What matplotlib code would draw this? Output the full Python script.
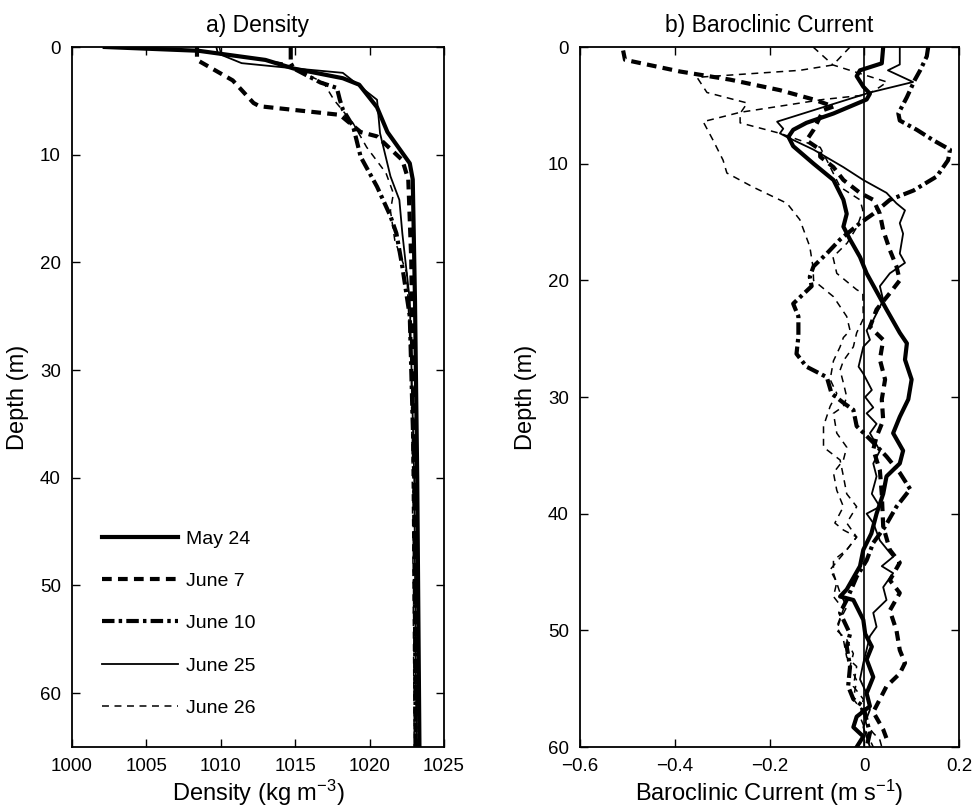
import matplotlib
matplotlib.use("Agg")
import matplotlib.pyplot as plt
from matplotlib.ticker import FuncFormatter

plt.rcParams['font.family'] = ['Liberation Sans', 'DejaVu Sans']
plt.rcParams['mathtext.default'] = 'regular'
plt.rcParams['lines.scale_dashes'] = False

# ---- a) density profiles (depth m, density kg/m3)
may24_z = [0, 0.35, 1.2, 2.0, 2.9, 3.5, 5.6, 7.9, 10.8, 12.3, 23.5, 40, 65]
may24_rho = [1002.2, 1008.5, 1013.0, 1014.9, 1018.2, 1019.3, 1020.5, 1021.2, 1022.7, 1022.9, 1023.05, 1023.2, 1023.35]
jun7_z = [0, 1.2, 3.1, 5.2, 5.5, 6.3, 7.1, 7.9, 8.3, 10.5, 12.3, 19.8, 40, 65]
jun7_rho = [1008.4, 1008.4, 1010.8, 1012.2, 1012.6, 1018.0, 1018.7, 1019.4, 1020.5, 1022.2, 1022.6, 1022.8, 1023.0, 1023.1]
jun10_z = [0, 1.5, 2.0, 3.3, 3.8, 4.9, 5.8, 7.4, 10.2, 12.97, 15.7, 17.3, 20.4, 25, 40, 65]
jun10_rho = [1014.7, 1014.7, 1014.9, 1016.7, 1017.8, 1018.0, 1018.2, 1018.9, 1019.4, 1020.5, 1021.4, 1021.8, 1022.2, 1022.7, 1023.0, 1023.1]
jun25_z = [0, 0.6, 1.5, 1.9, 2.4, 3.6, 4.9, 8.0, 12.0, 14.2, 17.3, 23.5, 40, 65]
jun25_rho = [1009.7, 1009.8, 1011.4, 1014.3, 1018.2, 1019.3, 1020.5, 1020.7, 1021.4, 1022.0, 1022.2, 1022.7, 1023.0, 1023.15]
jun26_z = [0, 0.6, 1.5, 3.3, 4.9, 7.1, 9.3, 11.7, 13.6, 15.2, 18, 21, 30, 45, 65]
jun26_rho = [1009.9, 1010.0, 1014.2, 1016.9, 1017.6, 1018.9, 1019.8, 1021.1, 1021.6, 1021.4, 1021.7, 1022.5, 1022.8, 1022.9, 1023.0]

# ---- b) baroclinic current profiles (depth m, m/s)
may24_cz = [0, 1.4, 2.0, 2.5, 3.4, 4.0, 4.5, 5.7, 6.5, 7.1, 7.7, 8.5, 10.0, 11.4, 13.1, 14.3, 15.4, 16.5, 18.0, 19.4,
            22.5, 24.5, 25.4, 26.8, 28.5, 30.2, 31.7, 33.1, 34.6, 35.7, 36.8, 38.3, 40.0, 41.7, 43.1, 44.5, 46.5, 47.1,
            47.4, 49.1, 50.3, 51.4, 52.5, 54.0, 55.4, 56.5, 57.4, 58.3, 59.1, 60]
may24_u = [0.040, 0.037, -0.009, -0.016, -0.002, 0.012, 0.005, -0.065, -0.122, -0.150, -0.160, -0.150, -0.107, -0.065,
           -0.044, -0.037, -0.044, -0.030, -0.009, 0.005, 0.047, 0.075, 0.090, 0.086, 0.100, 0.093, 0.075, 0.061, 0.082,
           0.075, 0.047, 0.040, 0.026, 0.015, -0.002, -0.009, -0.037, -0.051, -0.023, -0.002, 0.002, 0.016, 0.005,
           0.019, 0.005, 0.012, -0.016, -0.023, -0.002, -0.016]
jun7_cz = [0.3, 1.1, 2.1, 2.8, 3.7, 4.5, 5.1, 5.4, 7.1, 8.0, 8.8, 9.4, 10.3, 11.4, 12.5, 13.1, 14.3, 15.7, 17.4, 18.8,
           20.0, 21.1, 22.5, 24.0, 25.1, 26.8, 28.5, 30.2, 32.0, 33.4, 34.5, 36.3, 38.3, 41.1, 43.1, 44.2, 45.7, 46.8,
           48.3, 50.0, 51.7, 52.8, 53.7, 54.8, 55.9, 57.0, 58.5, 59.7]
jun7_u = [-0.509, -0.505, -0.389, -0.283, -0.178, -0.107, -0.065, -0.086, -0.107, -0.122, -0.093, -0.093, -0.065,
          -0.044, -0.009, 0.019, 0.033, 0.040, 0.054, 0.068, 0.075, 0.054, 0.026, 0.012, 0.040, 0.033, 0.044, 0.037,
          0.040, 0.026, 0.019, 0.033, 0.037, 0.040, 0.054, 0.075, 0.054, 0.075, 0.054, 0.068, 0.075, 0.086, 0.075,
          0.047, 0.033, 0.019, 0.040, 0.051]
jun10_cz = [0, 0.8, 2.0, 2.8, 4.3, 5.7, 6.3, 7.1, 8.0, 8.8, 9.7, 11.1, 12.3, 13.1, 14.3, 15.1, 16.5, 17.7, 18.8, 19.7,
            20.5, 22.0, 23.1, 24.8, 26.3, 27.4, 28.3, 29.7, 30.5, 31.1, 32.5, 33.9, 35.1, 36.5, 37.9, 39.4, 41.1, 42.5,
            44.0, 45.4, 47.4, 48.5, 50.3, 51.4, 53.1, 54.8, 55.9, 56.5, 57.7, 58.8, 60]
jun10_u = [0.135, 0.132, 0.118, 0.107, 0.090, 0.072, 0.075, 0.111, 0.146, 0.181, 0.177, 0.153, 0.104, 0.054, 0.019,
           -0.009, -0.051, -0.079, -0.107, -0.115, -0.111, -0.150, -0.139, -0.139, -0.143, -0.122, -0.079, -0.069,
           -0.044, -0.023, -0.016, 0.019, 0.047, 0.075, 0.097, 0.068, 0.044, 0.019, 0.005, -0.016, -0.037, -0.051,
           -0.030, -0.037, -0.030, -0.034, -0.023, -0.002, 0.005, 0.012, 0.005]
jun25_cz = [0, 1.5, 2.0, 3.0, 3.9, 6.4, 7.0, 7.4, 7.7, 8.8, 10.3, 11.4, 12.5, 13.4, 14.0, 15.1, 16.0, 17.7, 18.5, 19.4,
            20.5, 21.7, 23.4, 24.3, 25.1, 25.7, 27.4, 28.0, 29.4, 30.0, 30.9, 31.4, 32.3, 33.1, 34.6, 35.7, 36.8, 38.3,
            39.4, 40.0, 40.8, 42.3, 43.7, 44.5, 45.1, 46.3, 47.4, 48.5, 49.7, 50.5, 52.8, 54.2, 55.4, 56.8, 58.3, 60]
jun25_u = [0.075, 0.075, 0.050, 0.103, 0.012, -0.184, -0.171, -0.178, -0.164, -0.107, -0.044, -0.002, 0.047, 0.068,
           0.086, 0.075, 0.082, 0.075, 0.086, 0.054, 0.033, 0.040, 0.019, 0.005, 0.012, -0.002, -0.012, -0.002, 0.016,
           0.002, 0.019, 0.005, 0.026, 0.012, 0.033, 0.019, 0.026, 0.016, 0.033, 0.005, 0.019, 0.033, 0.061, 0.037,
           0.061, 0.040, 0.047, 0.019, 0.026, 0.012, -0.002, -0.009, 0.005, 0.012, -0.002, 0.012]
jun26a_cz = [0, 1.54, 3.0, 3.43, 4.1, 4.5, 5.6, 6.4, 8.0, 9.7, 10.8, 12.0, 13.4, 14.8, 17.1, 18.9, 20.0, 21.4, 23.1,
             24.3, 24.9, 25.7, 26.9, 28.5, 29.7, 30.8, 32.5, 34.3, 35.4, 36.8, 38.3, 39.4, 40.8, 42.0, 43.1, 44.0, 45.1,
             46.8, 48.0, 49.1, 50.0, 50.8, 52.0, 53.1, 54.3, 55.9, 57.0, 58.1, 58.8, 59.4, 60]
jun26a_u = [-0.108, -0.066, 0.048, 0.033, 0.006, -0.087, -0.262, -0.340, -0.319, -0.298, -0.290, -0.235, -0.163,
            -0.136, -0.115, -0.108, -0.107, -0.065, -0.037, -0.030, -0.044, -0.051, -0.065, -0.072, -0.058, -0.072,
            -0.086, -0.086, -0.051, -0.044, -0.037, -0.016, -0.037, -0.016, -0.037, -0.065, -0.065, -0.051, -0.037,
            -0.051, -0.058, -0.037, -0.023, -0.030, -0.016, -0.023, -0.002, 0.005, 0.019, 0.033, 0.037]
jun26b_cz = [0, 1.54, 2.0, 2.6, 3.9, 4.8, 5.7, 6.5, 7.4, 8.6, 9.7, 12.0, 13.1, 14.0, 15.4, 16.8, 18.0, 19.4, 20.8,
             21.1, 23.3, 24.5, 25.7, 26.9, 27.7, 28.8, 30.0, 30.8, 31.4, 33.1, 34.3, 35.4, 36.5, 38.0, 39.4, 40.8,
             41.4, 42.0, 43.1, 44.8, 45.9, 47.1, 48.2, 49.7, 50.8, 52.3, 53.1, 54.8, 55.9, 57.4, 58.8, 60]
jun26b_u = [-0.030, -0.066, -0.136, -0.353, -0.332, -0.247, -0.262, -0.262, -0.178, -0.093, -0.079, -0.051, -0.009,
            -0.003, -0.015, -0.036, -0.066, -0.058, -0.016, -0.003, -0.002, -0.016, -0.023, -0.044, -0.051, -0.044,
            -0.037, -0.044, -0.065, -0.058, -0.037, -0.044, -0.065, -0.058, -0.044, -0.062, -0.044, -0.016, -0.037,
            -0.072, -0.058, -0.065, -0.044, -0.058, -0.044, -0.037, -0.016, -0.023, -0.002, -0.009, 0.005, 0.019]

labels = ['May 24', 'June 7', 'June 10', 'June 25', 'June 26']
styles = [
    dict(color='k', lw=3.0, ls='-'),
    dict(color='k', lw=3.0, ls=(0, (7, 4.5))),
    dict(color='k', lw=3.0, ls=(0, (9, 3, 2.5, 3))),
    dict(color='k', lw=1.3, ls='-'),
    dict(color='k', lw=1.1, ls=(0, (5, 4))),
]


def fmt(x, pos):
    return ('%g' % round(x, 3)).replace('-', '\u2212')


def style_axes(ax):
    ax.tick_params(direction='in', top=True, right=True, length=6, width=1.0, labelsize=13.5, pad=8)
    for s in ax.spines.values():
        s.set_linewidth(1.3)
    ax.xaxis.set_major_formatter(FuncFormatter(fmt))


fig = plt.figure(figsize=(9.72, 8.08), dpi=100)
ax1 = fig.add_axes([72 / 972, 61 / 808, 372 / 972, 700 / 808])
ax2 = fig.add_axes([580 / 972, 61 / 808, 379 / 972, 700 / 808])

dens = [(may24_rho, may24_z), (jun7_rho, jun7_z), (jun10_rho, jun10_z), (jun25_rho, jun25_z), (jun26_rho, jun26_z)]
for (x, z), lab, st in zip(dens, labels, styles):
    ax1.plot(x, z, label=lab, **st)
ax1.set_xlim(1000, 1025)
ax1.set_ylim(65, 0)
ax1.set_xticks([1000, 1005, 1010, 1015, 1020, 1025])
ax1.set_yticks([0, 10, 20, 30, 40, 50, 60])
ax1.set_xlabel('Density (kg m$^{-3}$)', fontsize=17, labelpad=2)
ax1.set_ylabel('Depth (m)', fontsize=17, labelpad=8)
ax1.set_title('a) Density', fontsize=16.5, pad=11)
style_axes(ax1)
ax1.legend(loc='upper left', bbox_to_anchor=(0.08, 0.31), frameon=False, fontsize=14,
           handlelength=3.9, handletextpad=0.45, labelspacing=1.27, borderpad=0, borderaxespad=0)

cur = [(may24_u, may24_cz), (jun7_u, jun7_cz), (jun10_u, jun10_cz), (jun25_u, jun25_cz),
       (jun26a_u, jun26a_cz), (jun26b_u, jun26b_cz)]
for (x, z), st in zip(cur, styles + [styles[4]]):
    ax2.plot(x, z, **st)
ax2.axvline(0, color='k', lw=1.2)
ax2.set_xlim(-0.6, 0.2)
ax2.set_ylim(60, 0)
ax2.set_xticks([-0.6, -0.4, -0.2, 0, 0.2])
ax2.set_yticks([0, 10, 20, 30, 40, 50, 60])
ax2.set_xlabel('Baroclinic Current (m s$^{-1}$)', fontsize=17, labelpad=2)
ax2.set_ylabel('Depth (m)', fontsize=17, labelpad=8)
ax2.set_title('b) Baroclinic Current', fontsize=16.5, pad=11)
style_axes(ax2)

fig.savefig('out.png', dpi=100)
